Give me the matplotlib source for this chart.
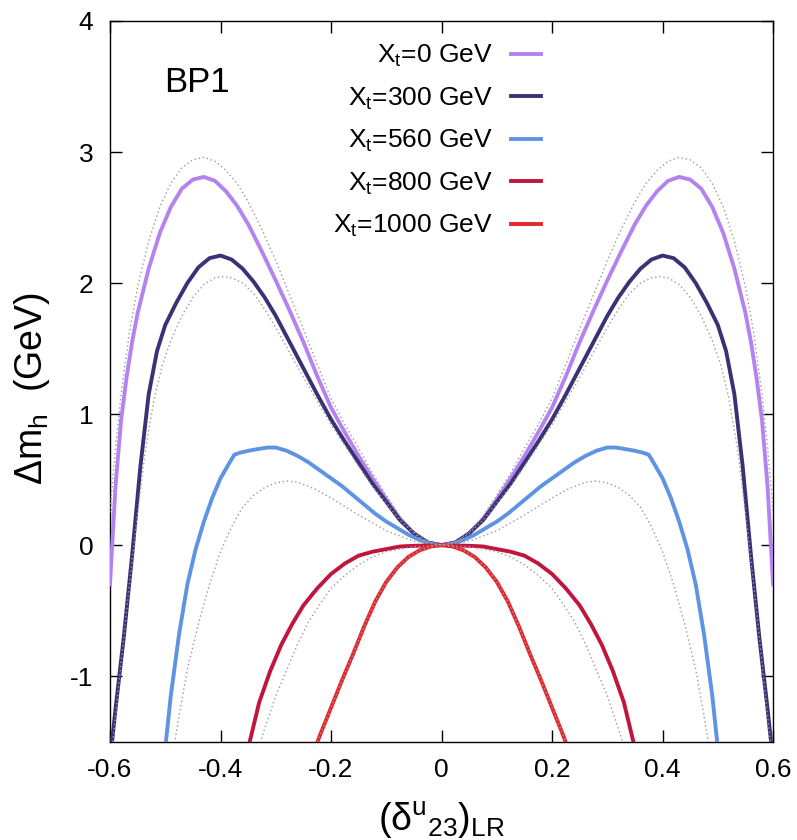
import matplotlib
matplotlib.use("Agg")
import matplotlib.pyplot as plt
import numpy as np

plt.rcParams['font.family'] = ['Liberation Sans', 'DejaVu Sans']
plt.rcParams['mathtext.default'] = 'regular'

# right half of each curve (x >= 0); the plot is symmetric in x
x_0 = [0, 0.025, 0.05, 0.075, 0.1, 0.125, 0.15, 0.175, 0.2, 0.225, 0.25, 0.275, 0.3, 0.325, 0.35,
       0.37, 0.39, 0.41, 0.43, 0.45, 0.47, 0.49, 0.51, 0.53, 0.55, 0.56, 0.57, 0.58, 0.59, 0.6]
y_0 = [0, 0.02, 0.09, 0.2, 0.35, 0.51, 0.68, 0.86, 1.05, 1.29, 1.55, 1.79, 2.02, 2.24, 2.45,
       2.59, 2.70, 2.78, 2.81, 2.79, 2.72, 2.58, 2.38, 2.11, 1.77, 1.55, 1.28, 0.95, 0.45, -0.3]

x_300 = [0, 0.025, 0.05, 0.075, 0.1, 0.125, 0.15, 0.175, 0.2, 0.225, 0.25, 0.275, 0.3, 0.32, 0.34,
         0.36, 0.38, 0.4, 0.42, 0.44, 0.46, 0.48, 0.5, 0.515, 0.53, 0.545, 0.56, 0.575, 0.59, 0.6]
y_300 = [0, 0.02, 0.09, 0.19, 0.33, 0.47, 0.63, 0.79, 0.96, 1.15, 1.35, 1.55, 1.75, 1.89, 2.01,
         2.11, 2.18, 2.21, 2.19, 2.12, 2.0, 1.85, 1.68, 1.48, 1.15, 0.6, -0.08, -0.7, -1.25, -1.65]

x_560 = [0, 0.02, 0.04, 0.06, 0.08, 0.1, 0.12, 0.14, 0.16, 0.18, 0.2, 0.22, 0.24, 0.26, 0.28,
         0.3, 0.315, 0.33, 0.35, 0.365, 0.375, 0.385, 0.4, 0.415, 0.43, 0.445, 0.46, 0.475, 0.49, 0.5]
y_560 = [0, 0.01, 0.04, 0.08, 0.13, 0.18, 0.24, 0.31, 0.38, 0.45, 0.51, 0.57, 0.63, 0.68, 0.72,
         0.745, 0.745, 0.735, 0.72, 0.705, 0.69, 0.62, 0.51, 0.36, 0.18, -0.03, -0.3, -0.68, -1.15, -1.55]

x_800 = [0, 0.05, 0.075, 0.1, 0.125, 0.15, 0.175, 0.2, 0.225, 0.25, 0.27, 0.29, 0.31, 0.33, 0.35]
y_800 = [0, -0.005, -0.01, -0.03, -0.05, -0.08, -0.14, -0.22, -0.33, -0.46, -0.6, -0.76, -0.96, -1.2, -1.55]

x_1000 = [0, 0.02, 0.04, 0.06, 0.08, 0.1, 0.12, 0.14, 0.16, 0.18, 0.2, 0.22, 0.235]
y_1000 = [0, -0.01, -0.04, -0.09, -0.17, -0.28, -0.43, -0.62, -0.83, -1.03, -1.24, -1.45, -1.62]

# thin dotted grey reference curves
xd_1 = [0, 0.025, 0.05, 0.075, 0.1, 0.125, 0.15, 0.175, 0.2, 0.225, 0.25, 0.275, 0.3, 0.325, 0.35,
        0.37, 0.39, 0.41, 0.43, 0.45, 0.47, 0.49, 0.51, 0.53, 0.55, 0.565, 0.58, 0.59, 0.6]
yd_1 = [0, 0.025, 0.1, 0.22, 0.38, 0.55, 0.74, 0.92, 1.12, 1.38, 1.65, 1.91, 2.17, 2.41, 2.62,
        2.76, 2.86, 2.93, 2.96, 2.94, 2.88, 2.76, 2.58, 2.32, 1.97, 1.62, 1.15, 0.75, 0.25]

xd_2 = [0, 0.025, 0.05, 0.075, 0.1, 0.125, 0.15, 0.175, 0.2, 0.225, 0.25, 0.275, 0.3, 0.32, 0.34,
        0.36, 0.38, 0.395, 0.41, 0.43, 0.45, 0.47, 0.49, 0.505, 0.52, 0.535, 0.55, 0.565, 0.58, 0.595]
yd_2 = [0, 0.02, 0.09, 0.19, 0.32, 0.45, 0.6, 0.76, 0.92, 1.1, 1.28, 1.47, 1.66, 1.8, 1.92,
        2.0, 2.04, 2.05, 2.04, 1.99, 1.89, 1.75, 1.56, 1.38, 1.12, 0.75, 0.25, -0.3, -0.9, -1.5]

xd_3 = [0, 0.05, 0.1, 0.15, 0.2, 0.23, 0.26, 0.28, 0.3, 0.32, 0.34, 0.36, 0.38, 0.4, 0.42,
        0.44, 0.46, 0.475, 0.49]
yd_3 = [0, 0.03, 0.11, 0.23, 0.36, 0.43, 0.48, 0.49, 0.475, 0.44, 0.38, 0.29, 0.14, -0.05, -0.3,
        -0.6, -0.95, -1.3, -1.7]

xd_4 = [0, 0.05, 0.1, 0.125, 0.15, 0.175, 0.2, 0.22, 0.24, 0.26, 0.28, 0.3, 0.32, 0.335]
yd_4 = [0, -0.01, -0.05, -0.09, -0.15, -0.23, -0.33, -0.45, -0.58, -0.75, -0.95, -1.15, -1.4, -1.6]

labels = ['X$_t$=0 GeV', 'X$_t$=300 GeV', 'X$_t$=560 GeV', 'X$_t$=800 GeV', 'X$_t$=1000 GeV']
colors = ['#b583f0', '#3b3275', '#5f93e3', '#c0163e', '#e5262b']


def mirror(x, y):
    x = np.asarray(x, float)
    y = np.asarray(y, float)
    return np.concatenate([-x[::-1], x[1:]]), np.concatenate([y[::-1], y[1:]])


fig = plt.figure(figsize=(7.97, 8.40), dpi=100)
ax = fig.add_axes([0.138, 0.117, 0.832, 0.858])

curves = [(x_0, y_0), (x_300, y_300), (x_560, y_560), (x_800, y_800), (x_1000, y_1000)]
for (xs, ys), c, lab in zip(curves, colors, labels):
    X, Y = mirror(xs, ys)
    ax.plot(X, Y, color=c, lw=2.8, label=lab, zorder=3, solid_joinstyle='round')

for xs, ys in [(xd_1, yd_1), (xd_2, yd_2), (xd_3, yd_3), (xd_4, yd_4), (x_1000, y_1000)]:
    X, Y = mirror(xs, ys)
    ax.plot(X, Y, color='#9a9a9a', lw=1.0, ls=(0, (1, 2)), zorder=4)

ax.set_xlim(-0.6, 0.6)
ax.set_ylim(-1.5, 4)
ax.set_xticks([-0.6, -0.4, -0.2, 0, 0.2, 0.4, 0.6])
ax.set_xticklabels(['-0.6', '-0.4', '-0.2', '0', '0.2', '0.4', '0.6'])
ax.set_yticks([-1, 0, 1, 2, 3, 4])
ax.set_yticklabels(['-1', '0', '1', '2', '3', '4'])
ax.tick_params(direction='in', length=8.5, width=1, top=True, right=True,
               labelsize=19, pad=12)
for s in ax.spines.values():
    s.set_linewidth(1)

ax.set_xlabel('(δ$^u$$_{23}$)$_{LR}$', fontsize=27)
ax.xaxis.set_label_coords(0.5, -0.08)
ax.set_ylabel('Δm$_h$  (GeV)', fontsize=27)
ax.yaxis.set_label_coords(-0.088, 0.49)

ax.text(-0.442, 3.53, 'BP1', fontsize=25, ha='center', va='center')

ax.legend(loc='upper right', bbox_to_anchor=(0.670, 0.988), frameon=False, borderpad=0,
          markerfirst=False, fontsize=19, handlelength=1.14, handletextpad=0.68,
          labelspacing=0.62)

fig.savefig('out.png', dpi=100)
